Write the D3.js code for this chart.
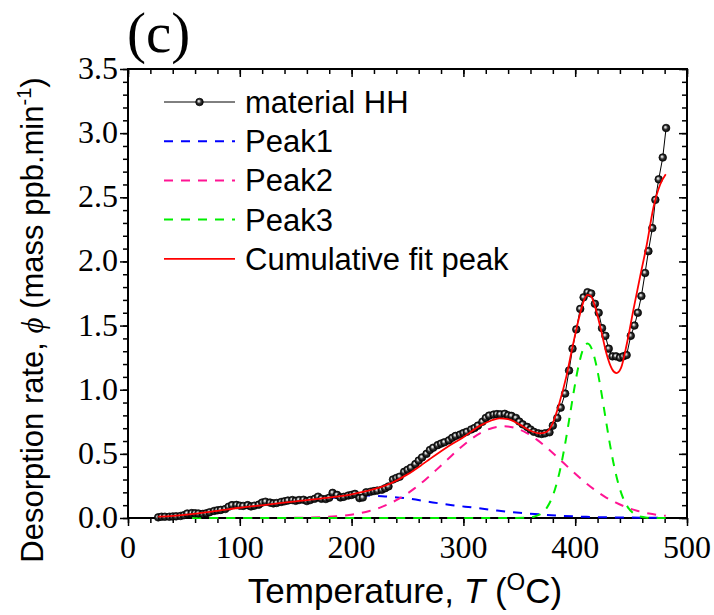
<!DOCTYPE html>
<html>
<head>
  <meta charset="utf-8">
  <title>Desorption rate (c)</title>
  <script src="https://d3js.org/d3.v7.min.js"></script>
  <style>
    body { margin: 0; background: #fff; }
    svg { display: block; }
    .tick-label { font-family: "Liberation Serif", "Times New Roman", serif; font-size: 32px; fill: #000; }
    .sans { font-family: "Liberation Sans", Arial, sans-serif; fill: #000; }
  </style>
</head>
<body>
<svg width="714" height="615"></svg>
<script>
// measured data: material HH
const tempData = [27,30,33,37,40,43,47,50,53,57,60,63,67,70,73,77,80,83,87,90,93,97,100,103,107,110,113,117,120,123,127,130,133,137,140,143,147,150,153,157,160,163,167,170,173,177,180,183,187,190,193,197,200,203,207,210,213,217,220,223,227,230,233,237,240,243,247,250,253,257,260,263,267,270,273,277,280,283,287,290,293,297,300,303,307,310,313,317,320,323,327,330,333,337,340,343,347,350,353,357,360,363,367,370,373,377,380,384,387,391,394.5,397.6,401,404.5,407.5,411,414.3,417.6,421,424,427,430,433.3,436.5,440,443,446,449.7,453,456,459.2,462.5,465.5,469,471.7,474.7,478.3,481.3];
const rateData = [.005,.01,.01,.01,.012,.013,.016,.022,.035,.038,.037,.035,.032,.036,.045,.055,.06,.063,.07,.088,.1,.102,.096,.094,.1,.09,.096,.104,.12,.127,.12,.114,.117,.125,.13,.136,.14,.134,.14,.142,.132,.14,.15,.166,.15,.148,.158,.196,.18,.16,.165,.175,.18,.188,.155,.16,.2,.205,.21,.214,.22,.232,.246,.3,.312,.322,.36,.376,.392,.42,.448,.472,.5,.53,.548,.568,.58,.59,.605,.625,.64,.65,.662,.672,.69,.702,.72,.75,.78,.798,.806,.81,.808,.812,.8,.796,.78,.752,.73,.71,.69,.672,.66,.655,.66,.668,.72,.78,.86,.97,1.15,1.32,1.47,1.63,1.72,1.76,1.75,1.67,1.6,1.48,1.42,1.32,1.26,1.26,1.25,1.26,1.27,1.42,1.5,1.6,1.73,1.91,2.08,2.26,2.48,2.64,2.81,3.04];

// fitted components
const peak1T = [27,50,75,100,125,150,175,200,215,230,250,270,290,310,330,350,370,390,410,430,450,481];
const peak1V = [.012,.03,.055,.085,.11,.13,.15,.17,.175,.168,.152,.125,.1,.08,.058,.04,.027,.016,.009,.005,.003,.001];

const peak2T = [27,136,156,176,186,196,206,216,226,236,246,256,266,276,286,296,306,316,326,336,346,356,366,376,386,396,406,416,426,436,446,456,466,476,481];
const peak2V = [0,.0006,.0022,.0075,.013,.022,.035,.055,.083,.121,.169,.229,.299,.377,.458,.538,.609,.666,.702,.715,.702,.666,.609,.538,.458,.377,.299,.229,.169,.121,.083,.055,.035,.022,.017];

const peak3T = [27,340,355,359,363,367,371,375,379,383,387,391,395,399,403,407,411,415,419,423,427,431,435,439,443,447,451,455,459,463,467,481];
const peak3V = [0,0,.0017,.0042,.01,.0218,.0445,.085,.152,.255,.397,.578,.787,1.0,1.186,1.314,1.36,1.314,1.186,1.0,.787,.578,.397,.255,.152,.085,.0445,.0218,.01,.0042,.0017,0];

const fitT = [27,50,75,100,125,150,175,200,220,235,250,262,270,285,300,315,325,332,340,350,360,368,374,380,386,392,398,404,408,411,414,418,423,428,433,437,441,446,452,458,464,470,476,481];
const fitV = [.01,.025,.05,.08,.105,.13,.155,.185,.225,.27,.34,.41,.46,.55,.63,.72,.76,.777,.77,.73,.68,.66,.67,.74,.9,1.1,1.35,1.58,1.7,1.74,1.73,1.64,1.47,1.28,1.16,1.13,1.17,1.35,1.62,1.88,2.13,2.42,2.6,2.68];

const xTicks = [0,100,200,300,400,500];
const yTicks = [0,0.5,1,1.5,2,2.5,3,3.5];
const legendNames = ["material HH","Peak1","Peak2","Peak3","Cumulative fit peak"];

const svg = d3.select("svg");
const plotL = 128, plotR = 687, plotT = 69, plotB = 518;

const x = d3.scaleLinear().domain([0, 500]).range([plotL, plotR]);
const y = d3.scaleLinear().domain([0, 3.5]).range([plotB, plotT]);

// sphere-looking marker
const defs = svg.append("defs");
const grad = defs.append("radialGradient").attr("id", "ball")
  .attr("cx", "50%").attr("cy", "50%").attr("r", "55%")
  .attr("fx", "38%").attr("fy", "36%");
grad.append("stop").attr("offset", "0%").attr("stop-color", "#ffffff");
grad.append("stop").attr("offset", "22%").attr("stop-color", "#bbbbbb");
grad.append("stop").attr("offset", "50%").attr("stop-color", "#333");
grad.append("stop").attr("offset", "100%").attr("stop-color", "#000");

// axes (ticks outward on bottom/left, inward on top/right)
const xMinor = d3.range(0, 501, 20);
const yMinor = d3.range(0, 36).map(d => d / 10);

const gx = svg.append("g").attr("transform", `translate(0,${plotB})`)
  .call(d3.axisBottom(x).tickValues(xMinor).tickSize(5).tickFormat(""));
gx.append("g").call(d3.axisBottom(x).tickValues(xTicks).tickSize(8).tickFormat(""));
const gy = svg.append("g").attr("transform", `translate(${plotL},0)`)
  .call(d3.axisLeft(y).tickValues(yMinor).tickSize(5).tickFormat(""));
gy.append("g").call(d3.axisLeft(y).tickValues(yTicks).tickSize(8).tickFormat(""));
const gt = svg.append("g").attr("transform", `translate(0,${plotT})`)
  .call(d3.axisBottom(x).tickValues(xMinor).tickSize(5).tickFormat(""));
gt.append("g").call(d3.axisBottom(x).tickValues(xTicks).tickSize(8).tickFormat(""));
const gr = svg.append("g").attr("transform", `translate(${plotR},0)`)
  .call(d3.axisLeft(y).tickValues(yMinor).tickSize(5).tickFormat(""));
gr.append("g").call(d3.axisLeft(y).tickValues(yTicks).tickSize(8).tickFormat(""));

svg.selectAll(".domain").remove();
svg.selectAll(".tick line").attr("stroke", "#000").attr("stroke-width", 1.5);

svg.append("rect")
  .attr("x", plotL).attr("y", plotT)
  .attr("width", plotR - plotL).attr("height", plotB - plotT)
  .attr("fill", "none").attr("stroke", "#000").attr("stroke-width", 2);

// tick labels
svg.append("g").selectAll("text").data(xTicks).join("text")
  .attr("class", "tick-label")
  .attr("x", d => x(d)).attr("y", 558)
  .attr("text-anchor", "middle").text(d => d);
svg.append("g").selectAll("text").data(yTicks).join("text")
  .attr("class", "tick-label")
  .attr("x", 118).attr("y", d => y(d) + 10)
  .attr("text-anchor", "end").text(d => d.toFixed(1));

// axis titles
const xt = svg.append("text").attr("class", "sans")
  .attr("x", 405).attr("y", 603).attr("text-anchor", "middle")
  .style("font-size", "35px");
xt.append("tspan").text("Temperature, ");
xt.append("tspan").style("font-style", "italic").text("T");
xt.append("tspan").text(" (");
xt.append("tspan").attr("dy", -13).style("font-size", "24px").text("O");
xt.append("tspan").attr("dy", 13).text("C)");

const yt = svg.append("text").attr("class", "sans")
  .attr("transform", "translate(43,320) rotate(-90)")
  .attr("text-anchor", "middle")
  .style("font-size", "31px");
yt.append("tspan").text("Desorption rate, ");
yt.append("tspan").style("font-style", "italic")
  .style("font-family", "'Liberation Serif', serif").text("\u03D5");
yt.append("tspan").text(" (mass ppb.min");
yt.append("tspan").attr("dy", -12).style("font-size", "20px").text("-1");
yt.append("tspan").attr("dy", 12).text(")");

svg.append("text")
  .attr("x", 127).attr("y", 52)
  .style("font-family", "'Liberation Serif', serif")
  .style("font-size", "57px")
  .text("(c)");

// curves
const line = d3.line().x(d => x(d[0])).y(d => y(d[1])).curve(d3.curveMonotoneX);
const plot = svg.append("g");

function series(ts, vs) { return ts.map((t, i) => [t, vs[i]]); }

plot.append("path").datum(series(peak1T, peak1V))
  .attr("d", line).attr("fill", "none").attr("stroke", "#0000ff")
  .attr("stroke-width", 2).attr("stroke-dasharray", "9,8");
plot.append("path").datum(series(peak2T, peak2V))
  .attr("d", line).attr("fill", "none").attr("stroke", "#ff1493")
  .attr("stroke-width", 2).attr("stroke-dasharray", "9,8");
plot.append("path").datum(series(peak3T, peak3V))
  .attr("d", line).attr("fill", "none").attr("stroke", "#00ee00")
  .attr("stroke-width", 2).attr("stroke-dasharray", "9,8");

const dataPts = series(tempData, rateData);
plot.append("path").datum(dataPts)
  .attr("d", d3.line().x(d => x(d[0])).y(d => y(d[1])))
  .attr("fill", "none").attr("stroke", "#000").attr("stroke-width", 1);
plot.append("g").selectAll("circle").data(dataPts).join("circle")
  .attr("cx", d => x(d[0])).attr("cy", d => y(d[1])).attr("r", 3.8)
  .attr("fill", "url(#ball)").attr("stroke", "#000").attr("stroke-width", 0.7);

plot.append("path").datum(series(fitT, fitV))
  .attr("d", line).attr("fill", "none").attr("stroke", "#ff0000")
  .attr("stroke-width", 1.8);

// legend
const legColors = ["#000", "#0000ff", "#ff1493", "#00ee00", "#ff0000"];
const leg = svg.append("g");
legendNames.forEach((name, i) => {
  const yy = 102 + i * 39.2;
  const ln = leg.append("line")
    .attr("x1", 164).attr("x2", 235).attr("y1", yy).attr("y2", yy)
    .attr("stroke", legColors[i]);
  if (i === 0) {
    ln.attr("stroke-width", 1);
    leg.append("circle").attr("cx", 199.5).attr("cy", yy).attr("r", 3.8)
      .attr("fill", "url(#ball)").attr("stroke", "#000").attr("stroke-width", 0.7);
  } else if (i < 4) {
    ln.attr("stroke-width", 2).attr("stroke-dasharray", "9,8");
  } else {
    ln.attr("stroke-width", 1.8);
  }
  leg.append("text").attr("class", "sans")
    .attr("x", 245).attr("y", yy + 11)
    .style("font-size", "31px").text(name);
});
</script>
</body>
</html>
